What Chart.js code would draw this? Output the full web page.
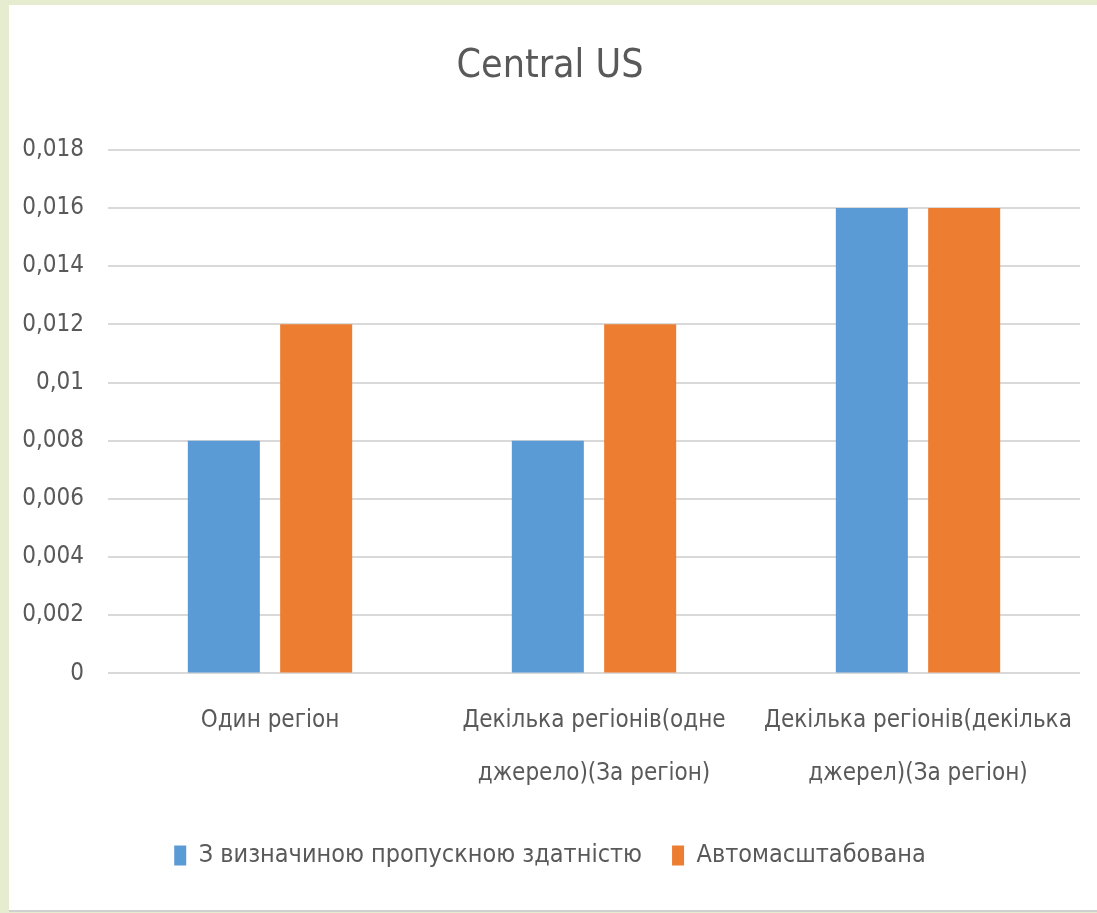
<!DOCTYPE html>
<html>
<head>
<meta charset="utf-8">
<script src="https://cdn.jsdelivr.net/npm/chart.js@4"></script>
<style>
  html, body { margin: 0; padding: 0; }
  body { width: 1097px; height: 913px; background: #e5ecd0; position: relative; overflow: hidden; }
  #panel { position: absolute; left: 9px; top: 5px; width: 1088px; height: 905px; background: #fff; border-bottom: 2px solid #d0d0d0; }
  #panel canvas { display: block; }
</style>
</head>
<body>
<div id="panel"><canvas id="chart" width="1088" height="905"></canvas></div>
<script>
const categories = [
  'Один регіон',
  ['Декілька регіонів(одне', 'джерело)(За регіон)'],
  ['Декілька регіонів(декілька', 'джерел)(За регіон)']
];
const seriesNames = ['З визначиною пропускною здатністю', 'Автомасштабована'];
const fixedThroughput = [0.008, 0.008, 0.016];
const autoscaled = [0.012, 0.012, 0.016];
const yTicks = ['0', '0,002', '0,004', '0,006', '0,008', '0,01', '0,012', '0,014', '0,016', '0,018'];

const fontFamily = '"DejaVu Sans Condensed", "Liberation Sans Narrow", "Open Sans", sans-serif';
const textColor = '#595959';

const ctx = document.getElementById('chart');
new Chart(ctx, {
  type: 'bar',
  data: {
    labels: categories,
    datasets: [
      { label: seriesNames[0], data: fixedThroughput, backgroundColor: '#5b9bd5' },
      { label: seriesNames[1], data: autoscaled, backgroundColor: '#ed7d31' }
    ]
  },
  options: {
    responsive: false,
    animation: false,
    layout: { padding: { left: 11, right: 17, top: 20, bottom: 32 } },
    datasets: { bar: { categoryPercentage: 0.57, barPercentage: 0.78 } },
    plugins: {
      title: {
        display: true,
        text: 'Central US',
        color: textColor,
        font: { family: fontFamily, size: 39, weight: 'normal' },
        padding: { top: 18, bottom: 60 }
      },
      legend: {
        position: 'bottom',
        labels: {
          color: textColor,
          font: { family: fontFamily, size: 25 },
          boxWidth: 12,
          boxHeight: 20,
          padding: 30
        }
      },
      tooltip: { enabled: false }
    },
    scales: {
      x: {
        grid: { display: false },
        border: { display: false },
        ticks: {
          color: textColor,
          font: { family: fontFamily, size: 24, lineHeight: 2.2 },
          maxRotation: 0,
          autoSkip: false,
          padding: 13
        }
      },
      y: {
        min: 0,
        max: 0.018,
        afterFit: (scale) => { scale.width = 88; },
        grid: { color: '#d9d9d9', lineWidth: 2, drawTicks: false },
        border: { display: false },
        ticks: {
          stepSize: 0.002,
          color: textColor,
          font: { family: fontFamily, size: 24 },
          padding: 24,
          callback: (v, i) => yTicks[i]
        }
      }
    }
  }
});
</script>
</body>
</html>
